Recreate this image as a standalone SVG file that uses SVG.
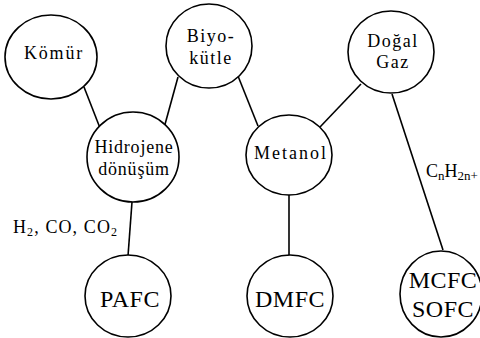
<svg xmlns="http://www.w3.org/2000/svg" width="480" height="338" viewBox="0 0 480 338">
<style>
.n{fill:#fff;stroke:#000;stroke-width:1.6}
.t{font-size:18px;fill:#000;text-anchor:middle}
.b{font-size:24px;fill:#000;text-anchor:middle}
.l{font-size:18px;fill:#000}
.c{stroke:#000;stroke-width:1.6;fill:none}
</style>
<rect width="480" height="338" fill="#fff"/>
<g id="connectors">
<line class="c" x1="84" y1="87" x2="100" y2="128"/>
<line class="c" x1="178" y1="77" x2="164" y2="128"/>
<line class="c" x1="238" y1="76" x2="258" y2="126"/>
<line class="c" x1="361" y1="84" x2="320" y2="127"/>
<line class="c" x1="392" y1="94" x2="443" y2="250"/>
<line class="c" x1="132" y1="202" x2="128" y2="256"/>
<line class="c" x1="289" y1="195" x2="289" y2="256"/>
</g>
<g font-family="Liberation Serif, DejaVu Serif, serif">
<g id="komur"><ellipse class="n" cx="51" cy="57" rx="46" ry="42"/><text class="t" x="54" y="59" letter-spacing="1.8">Kömür</text></g>
<g id="biyokutle"><ellipse class="n" cx="209" cy="46" rx="43" ry="42"/><text class="t" x="211" y="42" letter-spacing="1.5">Biyo-</text><text class="t" x="211" y="64" letter-spacing="1.5">kütle</text></g>
<g id="dogalgaz"><ellipse class="n" cx="391" cy="52" rx="43" ry="41"/><text class="t" x="393" y="47" letter-spacing="1.5">Doğal</text><text class="t" x="393" y="68" letter-spacing="1.5">Gaz</text></g>
<g id="hidrojene"><ellipse class="n" cx="133" cy="157" rx="46" ry="45"/><text class="t" x="134" y="153" letter-spacing="0.8">Hidrojene</text><text class="t" x="134" y="175" letter-spacing="0.8">dönüşüm</text></g>
<g id="metanol"><ellipse class="n" cx="289" cy="155" rx="43" ry="40"/><text class="t" x="291" y="159" letter-spacing="2">Metanol</text></g>
<g id="pafc"><ellipse class="n" cx="128" cy="296" rx="43" ry="41"/><text class="b" x="130" y="307" letter-spacing="0.5">PAFC</text></g>
<g id="dmfc"><ellipse class="n" cx="290" cy="296" rx="43" ry="41"/><text class="b" x="290" y="307" letter-spacing="0.5">DMFC</text></g>
<g id="mcfcsofc"><ellipse class="n" cx="441" cy="294" rx="41" ry="43"/><text class="b" x="443" y="288" letter-spacing="0.5">MCFC</text><text class="b" x="443" y="317" letter-spacing="0.5">SOFC</text></g>
<text class="l" x="13" y="233" textLength="104" lengthAdjust="spacing">H<tspan font-size="12" dy="3">2</tspan><tspan dy="-3">, CO, CO</tspan><tspan font-size="12" dy="3">2</tspan></text>
<text class="l" x="426" y="177">C<tspan font-size="13" dy="3">n</tspan><tspan dy="-3">H</tspan><tspan font-size="13" dy="3">2n+</tspan></text>
</g>
</svg>
